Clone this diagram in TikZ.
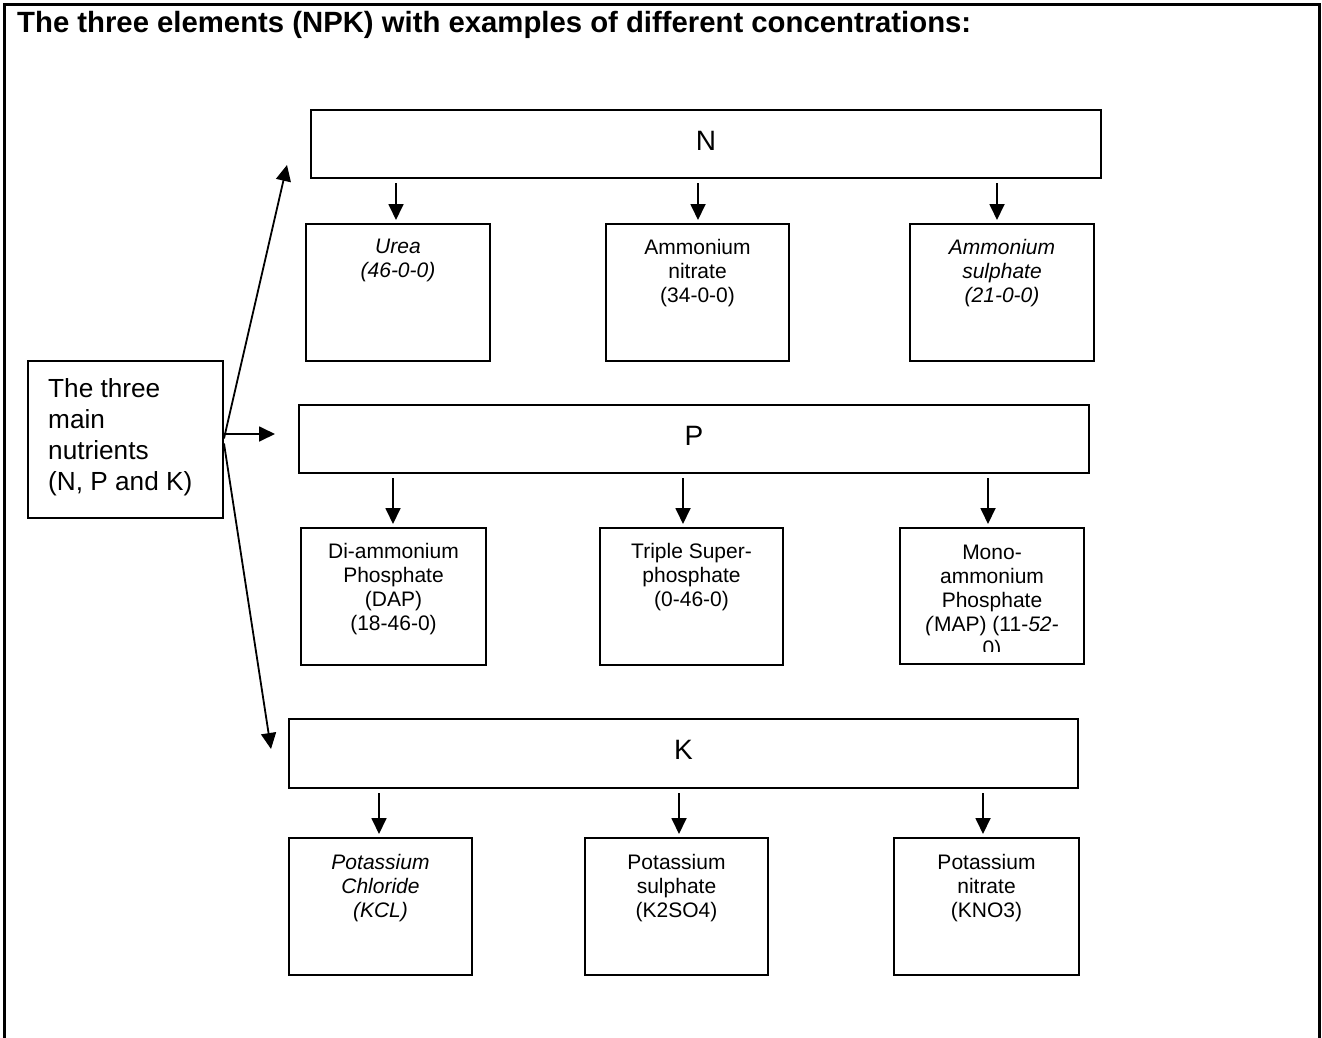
\documentclass[tikz,border=0pt]{standalone}
\usepackage{fontspec}
\setmainfont{Liberation Sans}
\usetikzlibrary{arrows.meta}
\begin{document}
\begin{tikzpicture}[x=1pt,y=-1pt,
  box/.style={draw, line width=2pt, inner sep=0pt, anchor=north west},
  txt/.style={inner sep=0pt, anchor=north, align=center, font=\fontsize{21}{24}\selectfont},
  lab/.style={inner sep=0pt, anchor=base, font=\fontsize{28}{32}\selectfont},
  arr/.style={-{Triangle[length=16pt,width=15pt]}, line width=1.8pt},
  down/.style={arr, shorten <=4pt, shorten >=3pt}]
\useasboundingbox (0,0) rectangle (1322,1038);
% outer frame (open at the bottom)
\draw[line width=2.5pt] (4.5,1045) -- (4.5,4.5) -- (1319.5,4.5) -- (1319.5,1045);
% title
\node[inner sep=0pt, anchor=base west, font=\fontsize{29.3}{33}\selectfont\bfseries] (title) at (17,33)
  {The three elements (NPK) with examples of different concentrations:};

% left box
\node[box, minimum width=195pt, minimum height=157pt] (L) at (27,360) {};
\node[inner sep=0pt, anchor=north west, align=left, font=\fontsize{26.2}{31}\selectfont] (Lt) at (48,378)
  {The three\\main\\nutrients\\(N, P and K)};

% N row
\node[box, minimum width=790pt, minimum height=68pt] (N) at (310,109) {};
\node[lab] (Nl) at ([yshift=-6pt]N.center) {N};
\node[box, minimum width=184pt, minimum height=137pt] (U) at (305,223) {};
\node[box, minimum width=183pt, minimum height=137pt] (AN) at (605,223) {};
\node[box, minimum width=184pt, minimum height=137pt] (AS) at (909,223) {};
\node[txt] (Ut) at ([yshift=-16pt]U.north) {\itshape Urea\\\itshape (46-0-0)};
\node[txt] (ANt) at ([yshift=-16pt]AN.north) {Ammonium\\nitrate\\(34-0-0)};
\node[txt] (ASt) at ([yshift=-16pt]AS.north) {\itshape Ammonium\\\itshape sulphate\\\itshape (21-0-0)};
\draw[down] (396,0 |- N.south) -- (396,0 |- U.north);
\draw[down] (698,0 |- N.south) -- (698,0 |- AN.north);
\draw[down] (997,0 |- N.south) -- (997,0 |- AS.north);

% P row
\node[box, minimum width=790pt, minimum height=68pt] (P) at (298,404) {};
\node[lab] (Pl) at ([yshift=-6pt]P.center) {P};
\node[box, minimum width=185pt, minimum height=137pt] (DAP) at (300,527) {};
\node[box, minimum width=183pt, minimum height=137pt] (TSP) at (599,527) {};
\node[box, minimum width=184pt, minimum height=136pt] (MAP) at (899,527) {};
\node[txt] (DAPt) at ([yshift=-16pt]DAP.north) {Di-ammonium\\Phosphate\\(DAP)\\(18-46-0)};
\node[txt] (TSPt) at ([yshift=-16pt]TSP.north) {Triple Super-\\phosphate\\(0-46-0)};
\begin{scope}
\clip (899,527) rectangle (1083,651);
\node[txt] (MAPt) at ([yshift=-18pt]MAP.north) {Mono-\\ammonium\\Phosphate\\\textit{(}MAP) (11-\textit{52-}\\0)};
\end{scope}
\draw[down] (393,0 |- P.south) -- (393,0 |- DAP.north);
\draw[down] (683,0 |- P.south) -- (683,0 |- TSP.north);
\draw[down] (988,0 |- P.south) -- (988,0 |- MAP.north);

% K row
\node[box, minimum width=789pt, minimum height=69pt] (K) at (288,718) {};
\node[lab] (Kl) at ([yshift=-6pt]K.center) {K};
\node[box, minimum width=183pt, minimum height=137pt] (KCL) at (288,837) {};
\node[box, minimum width=183pt, minimum height=137pt] (KS) at (584,837) {};
\node[box, minimum width=185pt, minimum height=137pt] (KN) at (893,837) {};
\node[txt] (KCLt) at ([yshift=-17pt]KCL.north) {\itshape Potassium\\\itshape Chloride\\\itshape (KCL)};
\node[txt] (KSt) at ([yshift=-17pt]KS.north) {Potassium\\sulphate\\(K2SO4)};
\node[txt] (KNt) at ([yshift=-17pt]KN.north) {Potassium\\nitrate\\(KNO3)};
\draw[down] (379,0 |- K.south) -- (379,0 |- KCL.north);
\draw[down] (679,0 |- K.south) -- (679,0 |- KS.north);
\draw[down] (983,0 |- K.south) -- (983,0 |- KN.north);

% fan of arrows from the left box
\coordinate (tipN) at (287,165);
\coordinate (tipP) at (275,434);
\coordinate (tipK) at (271,749);
\draw[arr] ([yshift=1pt]L.east) -- (tipN);
\draw[arr] (L.east |- tipP) -- (tipP);
\draw[arr] ([yshift=-4pt]L.east) -- (tipK);
\end{tikzpicture}
\end{document}
